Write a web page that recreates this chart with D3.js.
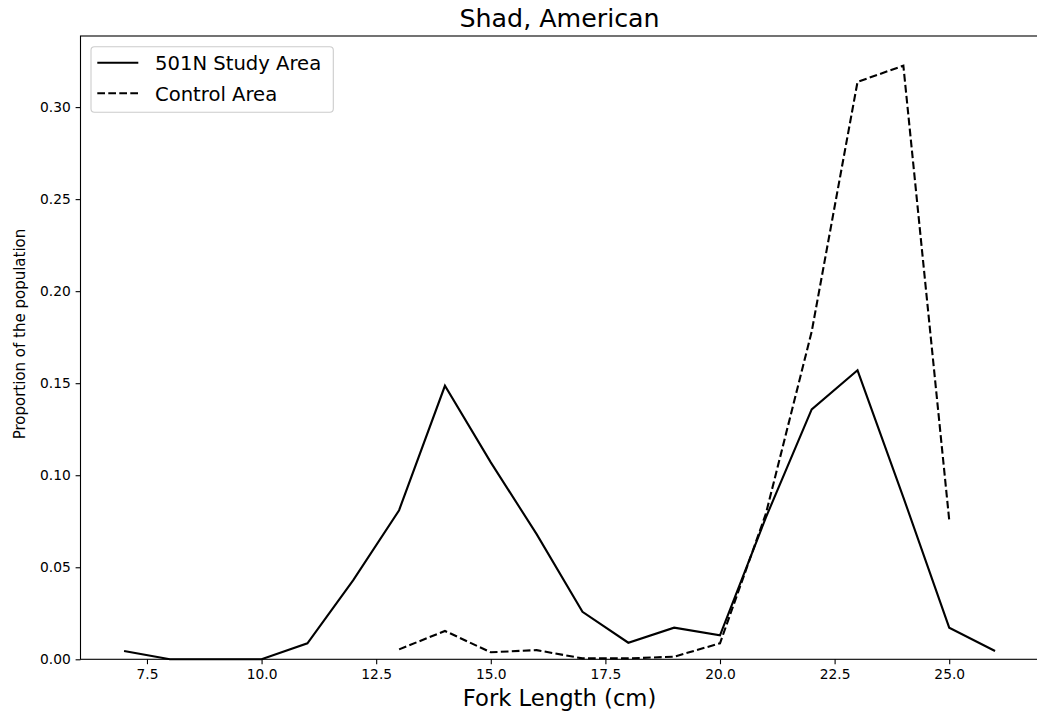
<!DOCTYPE html>
<html>
<head>
<meta charset="utf-8">
<script src="https://cdn.jsdelivr.net/npm/d3@7"></script>
<style>
  html, body { margin: 0; padding: 0; background: #fff; }
  svg { display: block; font-family: "DejaVu Sans", sans-serif; }
</style>
</head>
<body>
<svg id="chart" width="1037" height="717"></svg>
<script>
// Fork length bins (cm) and the share of fish caught in each bin
const studyLengths = [7, 8, 9, 10, 11, 12, 13, 14, 15, 16, 17, 18, 19, 20, 21, 22, 23, 24, 25, 26];
const studyValues  = [0.0045, 0, 0, 0, 0.0087, 0.043, 0.081, 0.1486, 0.107, 0.068, 0.0258, 0.009, 0.0172, 0.013, 0.077, 0.1358, 0.157, 0.088, 0.0172, 0.0045];

const controlLengths = [13, 14, 15, 16, 17, 18, 19, 20, 21, 22, 23, 24, 25];
const controlValues  = [0.0054, 0.0154, 0.0038, 0.005, 0.0005, 0.0005, 0.0014, 0.0087, 0.079, 0.178, 0.3137, 0.3225, 0.0757];

const xTicks = [7.5, 10.0, 12.5, 15.0, 17.5, 20.0, 22.5, 25.0];
const yTicks = [0.00, 0.05, 0.10, 0.15, 0.20, 0.25, 0.30];

const seriesNames = ["501N Study Area", "Control Area"];
const titleText = "Shad, American";
const xLabel = "Fork Length (cm)";
const yLabel = "Proportion of the population";

const svg = d3.select("#chart");
const plotLeft = 80.5, plotRight = 1038.6, plotTop = 36, plotBottom = 659.3;

// x padded by 5% of the data span on each side; y starts at zero
const xMin = d3.min(studyLengths), xMax = d3.max(studyLengths);
const xPad = (xMax - xMin) * 0.05;
const x = d3.scaleLinear().domain([xMin - xPad, xMax + xPad]).range([plotLeft, plotRight]);
const yMax = d3.max(controlValues.concat(studyValues)) * 1.05;
const y = d3.scaleLinear().domain([0, yMax]).range([plotBottom, plotTop]);

const study = studyLengths.map((d, i) => [d, studyValues[i]]);
const control = controlLengths.map((d, i) => [d, controlValues[i]]);

const line = d3.line().x(d => x(d[0])).y(d => y(d[1]));

// data lines
svg.append("path").datum(study)
  .attr("d", line).attr("fill", "none")
  .attr("stroke", "#000").attr("stroke-width", 2.1)
  .attr("stroke-linejoin", "miter");
svg.append("path").datum(control)
  .attr("d", line).attr("fill", "none")
  .attr("stroke", "#000").attr("stroke-width", 2.1)
  .attr("stroke-dasharray", "7.7,3.3");

// axes
const xAxis = d3.axisBottom(x).tickValues(xTicks).tickFormat(d3.format(".1f"))
  .tickSizeInner(4.9).tickSizeOuter(0).tickPadding(4.9);
const yAxis = d3.axisLeft(y).tickValues(yTicks).tickFormat(d3.format(".2f"))
  .tickSizeInner(4.9).tickSizeOuter(0).tickPadding(4.9);

const gx = svg.append("g").attr("transform", `translate(0,${plotBottom})`).call(xAxis);
const gy = svg.append("g").attr("transform", `translate(${plotLeft},0)`).call(yAxis);
[gx, gy].forEach(g => {
  g.select(".domain").remove();
  g.selectAll(".tick line").attr("stroke", "#000").attr("stroke-width", 1.1);
  g.selectAll(".tick text").attr("fill", "#000")
    .style("font-family", "DejaVu Sans").style("font-size", "13.8px");
});

// frame
svg.append("rect")
  .attr("x", plotLeft).attr("y", plotTop)
  .attr("width", plotRight - plotLeft).attr("height", plotBottom - plotTop)
  .attr("fill", "none").attr("stroke", "#000").attr("stroke-width", 1.1);

// title and axis labels
svg.append("text").attr("x", (plotLeft + plotRight) / 2).attr("y", 26.7)
  .attr("text-anchor", "middle").style("font-size", "25.3px").attr("fill", "#000")
  .text(titleText);
svg.append("text").attr("x", (plotLeft + plotRight) / 2).attr("y", 705.7)
  .attr("text-anchor", "middle").style("font-size", "22.7px").attr("fill", "#000")
  .text(xLabel);
svg.append("text")
  .attr("transform", `translate(24.7,334) rotate(-90)`)
  .attr("text-anchor", "middle").style("font-size", "15px").attr("fill", "#000")
  .text(yLabel);

// legend
const legend = svg.append("g");
legend.append("rect")
  .attr("x", 91).attr("y", 46.7).attr("width", 242.3).attr("height", 65.6)
  .attr("rx", 3.5).attr("ry", 3.5)
  .attr("fill", "#fff").attr("fill-opacity", 0.8)
  .attr("stroke", "#ccc").attr("stroke-width", 1.1);
const rows = [{ name: seriesNames[0], dash: null, cy: 62.7 },
              { name: seriesNames[1], dash: "7.7,3.3", cy: 93.3 }];
rows.forEach(r => {
  const l = legend.append("line")
    .attr("x1", 97.3).attr("x2", 138.3).attr("y1", r.cy).attr("y2", r.cy)
    .attr("stroke", "#000").attr("stroke-width", 2.1);
  if (r.dash) l.attr("stroke-dasharray", r.dash);
  legend.append("text").attr("x", 155).attr("y", r.cy + 7.6)
    .style("font-size", "19.6px").attr("fill", "#000").text(r.name);
});
</script>
</body>
</html>
